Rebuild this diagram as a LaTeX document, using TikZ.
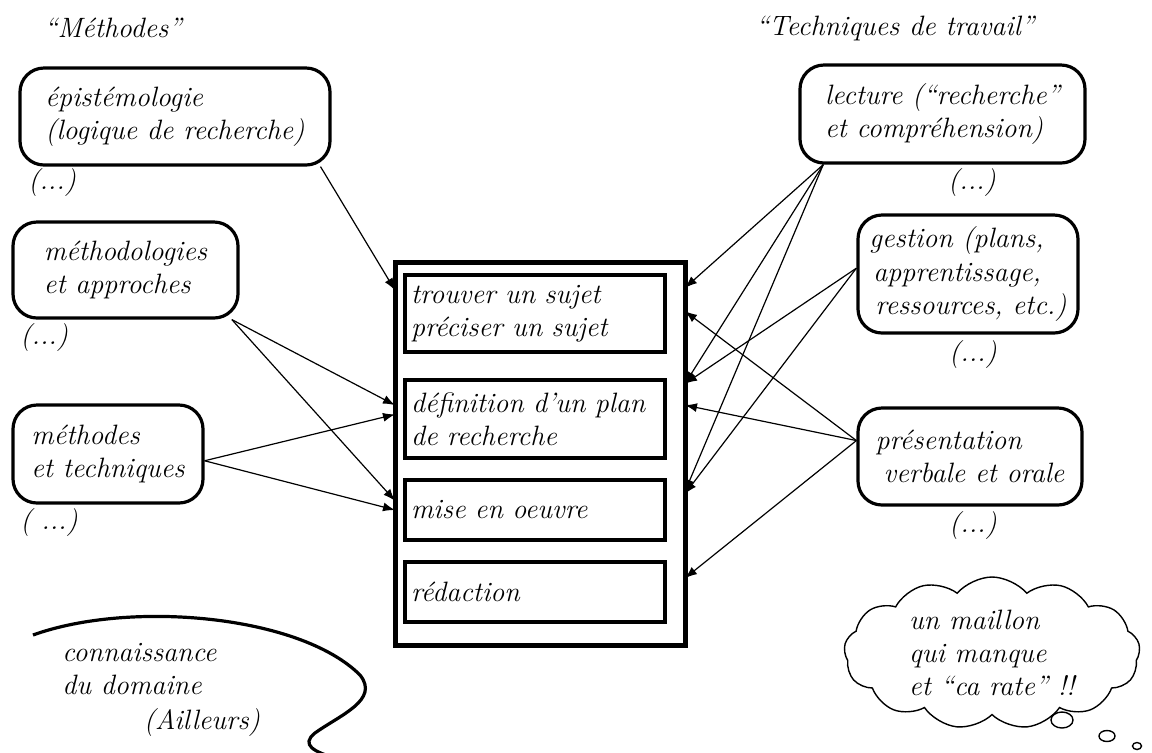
\documentclass[tikz,border=0pt]{standalone}
\usepackage{fontspec}
\usepackage{tikz}
\usetikzlibrary{arrows.meta,positioning,shapes.symbols,shapes.geometric}

\tikzstyle{texte}=[font=\fontsize{14}{16.5}\selectfont\itshape, align=left, inner sep=0pt]
\tikzstyle{boite}=[texte, draw, line width=1.6pt, rounded corners=12pt, anchor=center]
\tikzstyle{etape}=[texte, draw, line width=2pt, minimum width=130pt, text width=124pt, inner sep=3pt]
\tikzstyle{cadre_style}=[draw, line width=2.5pt, outer sep=0pt, minimum width=145pt, minimum height=191.5pt]
\tikzstyle{fleche}=[-{Latex[length=6pt,width=4.5pt]}, line width=0.6pt]
\tikzstyle{nuage_style}=[texte, cloud, cloud ignores aspect, draw, line width=0.7pt, cloud puffs=13, cloud puff arc=100, minimum width=148pt, minimum height=76pt]
\tikzstyle{bulle}=[ellipse, draw, line width=0.7pt, inner sep=0pt]

\begin{document}
\begin{tikzpicture}[x=0.5pt, y=-0.5pt]
	\useasboundingbox (0,0) rectangle (1152,752);

	% titres
	\node[texte] (titreM) at (113,28) {``Méthodes''};
	\node[texte] (titreT) at (895,28) {``Techniques de travail''};

	% le cadre central et les etapes
	\node[cadre_style] (cadre) at (540,453.5) {};
	\node[etape, minimum height=38.5pt] (trouver) at (535,313.5) {trouver un sujet\\préciser un sujet};
	\node[etape, minimum height=39pt, below=12pt of trouver] (defin) {définition d'un plan\\de recherche};
	\node[etape, minimum height=30pt, below=9pt of defin] (mise) {mise en oeuvre};
	\node[etape, minimum height=30pt, below=9pt of mise] (redac) {rédaction};

	% methodes (a gauche)
	\node[boite, minimum width=155pt, minimum height=48.5pt] (epis) at (175,116.5) {épistémologie\\(logique de recherche)};
	\node[texte, anchor=west] (pointsA) at (28,183) {(...)};
	\node[boite, minimum width=112.5pt, minimum height=48pt] (meth) at (125.5,270) {méthodologies\\et approches};
	\node[texte, anchor=west] (pointsB) at (20,337) {(...)};
	\node[boite, minimum width=95pt, minimum height=49pt] (techn) at (108,454) {méthodes\\et techniques};
	\node[texte, anchor=west] (pointsC) at (20,522) {( ...)};

	\draw[fleche] (epis.-19.5) -- (cadre.west |- trouver.170);
	\draw[fleche] (meth.-25) -- (cadre.west |- defin.174);
	\draw[fleche] (meth.-25) -- (cadre.west |- mise.176);
	\draw[fleche] (techn.-4) -- (cadre.west |- defin.178);
	\draw[fleche] (techn.-4) -- (cadre.west |- mise.west);

	% techniques de travail (a droite)
	\node[boite, minimum width=142.5pt, minimum height=49pt] (lect) at (942.5,114) {lecture (``recherche''\\et compréhension)};
	\node[texte] (pointsD) at (972,183) {(...)};
	\node[boite, minimum width=110pt, minimum height=59pt] (gest) at (968,274) {gestion (plans,\\\hspace{2pt}apprentissage,\\\hspace{3pt}ressources, etc.)};
	\node[texte] (pointsE) at (973,355) {(...)};
	\node[boite, minimum width=112pt, minimum height=48.5pt] (pres) at (970,456.5) {présentation\\\hspace{4pt}verbale et orale};
	\node[texte] (pointsF) at (973,525) {(...)};

	\draw[fleche] (lect.203.5) -- (cadre.east |- trouver.11.5);
	\draw[fleche] (lect.203.5) -- (cadre.east |- defin.15.5);
	\draw[fleche] (lect.203.5) -- (cadre.east |- mise.8.3);
	\draw[fleche] (gest.177) -- (cadre.east |- defin.15);
	\draw[fleche] (gest.177) -- (cadre.east |- mise.7.5);
	\draw[fleche] (pres.172) -- (cadre.east |- trouver.1.5);
	\draw[fleche] (pres.172) -- (cadre.east |- defin.6.6);
	\draw[fleche] (pres.172) -- (cadre.east |- redac.6.6);

	% connaissance du domaine
	\draw[line width=1.6pt] (33,635) .. controls (130,600) and (300,615) .. (360,675)
		.. controls (380,700) and (340,715) .. (315,733)
		.. controls (300,745) and (315,752) .. (335,758);
	\node[texte, anchor=west] (conn) at (62,669) {connaissance\\du domaine};
	\node[texte] (ailleurs) at (202,722) {(Ailleurs)};

	% la bulle
	\node[nuage_style] (nuage) at (992,653) {un maillon\\qui manque\\et ``ca rate'' !!};
	\node[bulle, minimum width=11pt, minimum height=8pt] (bulleA) at (1062,720) {};
	\node[bulle, minimum width=8pt, minimum height=5.5pt] (bulleB) at (1107,736) {};
	\node[bulle, minimum width=4.5pt, minimum height=3.5pt] (bulleC) at (1137,746) {};
\end{tikzpicture}
\end{document}
